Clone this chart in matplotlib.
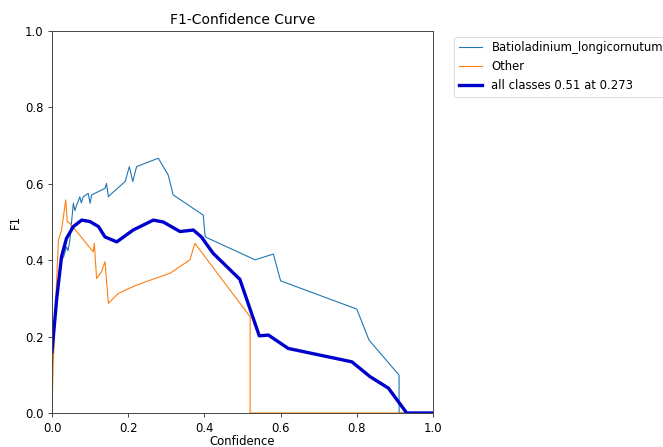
import matplotlib.pyplot as plt
import numpy as np

# Batioladinium_longicornutum
bat_x = [0.0, 0.012, 0.025, 0.031, 0.038, 0.042, 0.047, 0.056, 0.060, 0.065, 0.069, 0.073, 0.077, 0.082,
         0.095, 0.100, 0.104, 0.139, 0.143, 0.148, 0.157, 0.192, 0.203, 0.212, 0.222, 0.279,
         0.305, 0.318, 0.397, 0.402, 0.533, 0.581, 0.600, 0.800, 0.832, 0.911, 0.911, 1.0]
bat_y = [0.18, 0.30, 0.40, 0.41, 0.435, 0.425, 0.453, 0.549, 0.530, 0.545, 0.555, 0.566, 0.550, 0.566,
         0.575, 0.549, 0.571, 0.588, 0.601, 0.566, 0.575, 0.606, 0.645, 0.606, 0.645, 0.667,
         0.623, 0.571, 0.518, 0.461, 0.401, 0.416, 0.346, 0.272, 0.191, 0.099, 0.0, 0.0]

# Other
oth_x = [0.0, 0.003, 0.008, 0.017, 0.025, 0.030, 0.036, 0.040, 0.047, 0.108, 0.111, 0.117, 0.130,
         0.139, 0.148, 0.174, 0.222, 0.310, 0.362, 0.375, 0.520, 0.520, 1.0]
oth_y = [0.0, 0.121, 0.252, 0.453, 0.479, 0.514, 0.558, 0.501, 0.497, 0.422, 0.444, 0.352, 0.370,
         0.396, 0.287, 0.313, 0.335, 0.366, 0.401, 0.444, 0.252, 0.0, 0.0]

# all classes
all_x = [0.0, 0.012, 0.025, 0.038, 0.056, 0.078, 0.100, 0.122, 0.139, 0.170, 0.213, 0.266, 0.292,
         0.336, 0.371, 0.392, 0.423, 0.459, 0.493, 0.544, 0.568, 0.620, 0.787, 0.835, 0.883, 0.931, 1.0]
all_y = [0.16, 0.296, 0.409, 0.457, 0.488, 0.505, 0.501, 0.488, 0.461, 0.448, 0.479, 0.505, 0.500,
         0.475, 0.479, 0.461, 0.418, 0.383, 0.350, 0.202, 0.204, 0.169, 0.134, 0.095, 0.065, 0.0, 0.0]

fig = plt.figure(figsize=(6.63, 4.47), dpi=100)
ax = fig.add_axes([52 / 663, 34 / 447, 381 / 663, 382 / 447])

ax.plot(bat_x, bat_y, color='#1f77b4', linewidth=0.8, label='Batioladinium_longicornutum')
ax.plot(oth_x, oth_y, color='#ff7f0e', linewidth=0.8, label='Other')
ax.plot(all_x, all_y, color='#0000cc', linewidth=2.4, label='all classes 0.51 at 0.273')

ax.set_xlim(0, 1)
ax.set_ylim(0, 1)
ax.set_xticks(np.arange(0, 1.01, 0.2))
ax.set_yticks(np.arange(0, 1.01, 0.2))
ax.tick_params(labelsize=8.4, width=0.7, length=2.8, color='#444444')
for s in ax.spines.values():
    s.set_linewidth(0.7)
    s.set_color('#444444')
ax.set_xlabel('Confidence', fontsize=8.4, labelpad=0)
ax.set_ylabel('F1', fontsize=8.4, labelpad=2)
ax.set_title('F1-Confidence Curve', fontsize=10, pad=5)
leg = ax.legend(bbox_to_anchor=(1.04, 1), loc='upper left', fontsize=8.4, frameon=True)
leg.get_frame().set_linewidth(0.6)

plt.savefig('out.png', dpi=100)
